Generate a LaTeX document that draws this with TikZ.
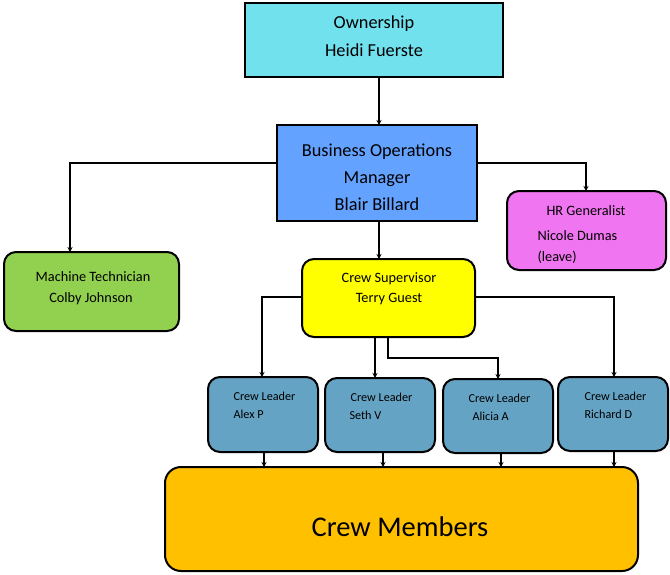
\documentclass[tikz,border=0pt]{standalone}
\usepackage{fontspec}
\setmainfont{Carlito}
\usetikzlibrary{arrows.meta}
\definecolor{owncol}{HTML}{72E1EE}
\definecolor{bomcol}{HTML}{64A2FF}
\definecolor{mtcol}{HTML}{92D050}
\definecolor{hrcol}{HTML}{F075F0}
\definecolor{cscol}{HTML}{FFFF00}
\definecolor{clcol}{HTML}{65A3C4}
\definecolor{cmcol}{HTML}{FFC000}
\begin{document}
\begin{tikzpicture}[x=1pt,y=-1pt,
  box/.style={draw=black,line width=2pt,inner sep=0pt,outer sep=0pt},
  rbox/.style={box,rounded corners=12pt},
  conn/.style={line width=1.4pt,-{Stealth[length=5pt,width=5pt]}},
  big/.style={font=\fontsize{18.3}{21}\selectfont},
  mid/.style={font=\fontsize{14.3}{17}\selectfont},
  small/.style={font=\fontsize{12.2}{14}\selectfont}]
\useasboundingbox (0,0) rectangle (670,574);
% boxes
\draw[box,fill=owncol] (245,3) rectangle (503,77);
\coordinate (ownB) at (379,77);
\draw[box,fill=bomcol] (277,125) rectangle (477,221);
\coordinate (bomT) at (379,125);
\coordinate (bomL) at (277,163);
\coordinate (bomR) at (477,163);
\coordinate (bomB) at (379,221);
\draw[rbox,fill=mtcol] (4,252) rectangle (179,331);
\coordinate (mtT) at (70,252);
\draw[rbox,fill=hrcol] (507,191) rectangle (666,270);
\coordinate (hrT) at (586,191);
\draw[rbox,fill=cscol] (302,259) rectangle (475,337);
\coordinate (csT) at (379,259);
\coordinate (csL) at (302,297);
\coordinate (csR) at (475,297);
\coordinate (csB1) at (375,337);
\coordinate (csB2) at (388,337);
\draw[rbox,fill=clcol] (208,377) rectangle (318,452);
\draw[rbox,fill=clcol] (325,378) rectangle (435,452);
\draw[rbox,fill=clcol] (443,379) rectangle (553,453);
\draw[rbox,fill=clcol] (558,377) rectangle (668,451);
\coordinate (c1T) at (262,377); \coordinate (c1B) at (264,452);
\coordinate (c2T) at (375,378); \coordinate (c2B) at (383,452);
\coordinate (c3T) at (498,379); \coordinate (c3B) at (501,453);
\coordinate (c4T) at (614,377); \coordinate (c4B) at (614,451);
\coordinate (cmT1) at (264,467); \coordinate (cmT2) at (383,467);
\coordinate (cmT3) at (501,467); \coordinate (cmT4) at (614,467);
\draw[rbox,rounded corners=16pt,fill=cmcol] (165,467) rectangle (638,571);
% texts
\node[big] (t1) at (374,24) {Ownership};
\node[big] (t2) at (374,50) {Heidi Fuerste};
\node[big] (t3) at (377,152) {Business Operations};
\node[big] (t4) at (377,179) {Manager};
\node[big] (t5) at (377,204) {Blair Billard};
\node[mid] (t6) at (93,277) {Machine Technician};
\node[mid] (t7) at (91,299) {Colby Johnson};
\node[mid] (t8) at (586,211) {HR Generalist};
\node[mid,anchor=west] (t9) at (534,236) {Nicole Dumas};
\node[mid,anchor=west] (t10) at (534,257) {(leave)};
\node[mid] (t11) at (389,279) {Crew Supervisor};
\node[mid] (t12) at (389,299) {Terry Guest};
\node[small,anchor=west] (a1) at (230,396) {Crew Leader};
\node[small,anchor=west] (a2) at (230,414) {Alex P};
\node[small,anchor=west] (b1) at (347,397) {Crew Leader};
\node[small,anchor=west] (b2) at (346,415) {Seth V};
\node[small,anchor=west] (d1) at (465,398) {Crew Leader};
\node[small,anchor=west] (d2) at (469,416) {Alicia A};
\node[small,anchor=west] (e1) at (581,396) {Crew Leader};
\node[small,anchor=west] (e2) at (581,414) {Richard D};
\node[font=\fontsize{28.5}{34}\selectfont] (cm) at (400,527) {Crew Members};
% connectors
\draw[conn] (ownB) -- (bomT);
\draw[conn] (bomL) -| (mtT);
\draw[conn] (bomR) -| (hrT);
\draw[conn] (bomB) -- (csT);
\draw[conn] (csL) -| (c1T);
\draw[conn] (csB1) -- (c2T);
\draw[conn] (csB2) |- (443,358) -| (c3T);
\draw[conn] (csR) -| (c4T);
\draw[conn] (c1B) -- (cmT1);
\draw[conn] (c2B) -- (cmT2);
\draw[conn] (c3B) -- (cmT3);
\draw[conn] (c4B) -- (cmT4);
\end{tikzpicture}
\end{document}
